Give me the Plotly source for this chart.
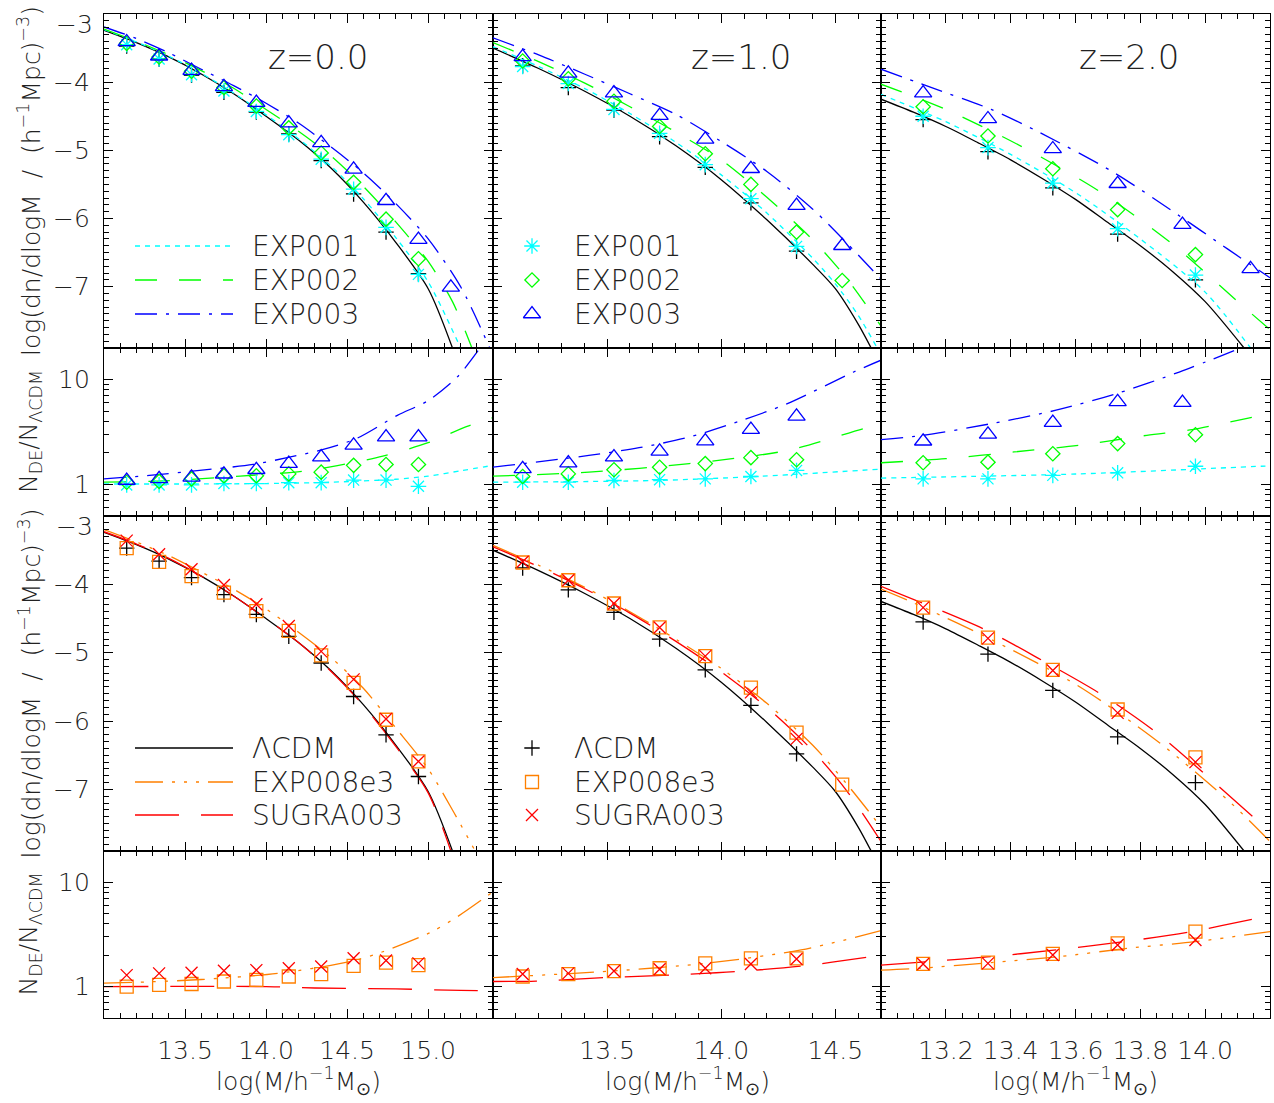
import plotly.graph_objects as go
import math

# ======================= DATA =======================
# simulation mass bins, log10(M / h^-1 Msun)
Z0_BIN_X = [13.14, 13.34, 13.54, 13.74, 13.94, 14.14, 14.34, 14.54, 14.74, 14.94, 15.14]
Z1_BIN_X = [13.13, 13.33, 13.53, 13.73, 13.93, 14.13, 14.33, 14.53]
Z2_BIN_X = [13.13, 13.33, 13.53, 13.73, 13.97]
Z2_BIN_X_EXP003 = [13.13, 13.33, 13.53, 13.73, 13.93, 14.14]

# --- z = 0 : simulated log(dn/dlogM)
Z0_MF_LCDM = [-3.47, -3.66, -3.90, -4.15, -4.44, -4.76, -5.15, -5.64, -6.20, -6.81]
Z0_MF_EXP001 = [-3.45, -3.66, -3.89, -4.13, -4.43, -4.77, -5.13, -5.57, -6.13, -6.82]
Z0_MF_EXP002 = [-3.43, -3.63, -3.84, -4.08, -4.35, -4.67, -5.04, -5.47, -6.01, -6.59]
Z0_MF_EXP003 = [-3.41, -3.62, -3.83, -4.07, -4.30, -4.60, -4.89, -5.28, -5.74, -6.31, -7.01]
Z0_MF_EXP008 = [-3.47, -3.67, -3.88, -4.12, -4.39, -4.68, -5.04, -5.44, -5.98, -6.59]
Z0_MF_SUGRA = [-3.36, -3.56, -3.78, -4.01, -4.29, -4.61, -4.98, -5.39, -5.97, -6.59]
# --- z = 0 : simulated N_DE / N_LCDM
Z0_R_EXP001 = [0.99, 0.99, 0.99, 1.02, 1.02, 1.04, 1.04, 1.10, 1.10, 0.96]
Z0_R_EXP002 = [1.05, 1.07, 1.13, 1.21, 1.21, 1.26, 1.31, 1.52, 1.55, 1.55]
Z0_R_EXP003 = [1.09, 1.13, 1.17, 1.25, 1.38, 1.58, 1.82, 2.36, 2.83, 2.83]
Z0_R_EXP008 = [1.00, 1.04, 1.06, 1.12, 1.16, 1.25, 1.32, 1.58, 1.70, 1.61]
Z0_R_SUGRA = [1.29, 1.34, 1.36, 1.42, 1.44, 1.50, 1.56, 1.87, 1.78, 1.67]
# --- z = 0 : theory curves
Z0_C_LCDM_X = [13.0, 13.2, 13.4, 13.6, 13.8, 14.0, 14.2, 14.4, 14.6, 14.8, 15.0, 15.15]
Z0_C_LCDM_Y = [-3.24, -3.42, -3.63, -3.88, -4.17, -4.50, -4.85, -5.26, -5.76, -6.35, -7.03, -7.90]
Z0_C_EXP001_X = [13.0, 13.2, 13.4, 13.6, 13.8, 14.0, 14.2, 14.4, 14.6, 14.8, 15.0, 15.2]
Z0_C_EXP001_Y = [-3.23, -3.41, -3.62, -3.87, -4.16, -4.48, -4.83, -5.23, -5.71, -6.28, -6.93, -7.90]
Z0_C_EXP002_X = [13.0, 13.2, 13.4, 13.6, 13.8, 14.0, 14.2, 14.4, 14.6, 14.8, 15.0, 15.15, 15.27]
Z0_C_EXP002_Y = [-3.22, -3.40, -3.60, -3.83, -4.09, -4.40, -4.72, -5.08, -5.53, -6.05, -6.63, -7.22, -7.90]
Z0_C_EXP003_X = [13.0, 13.2, 13.4, 13.6, 13.8, 14.0, 14.2, 14.4, 14.6, 14.8, 15.0, 15.2, 15.38]
Z0_C_EXP003_Y = [-3.19, -3.36, -3.57, -3.81, -4.05, -4.31, -4.60, -4.95, -5.33, -5.78, -6.30, -7.00, -7.90]
Z0_C_EXP008_X = [13.0, 13.2, 13.4, 13.6, 13.8, 14.0, 14.2, 14.4, 14.6, 14.8, 15.0, 15.15, 15.29]
Z0_C_EXP008_Y = [-3.20, -3.38, -3.58, -3.82, -4.07, -4.36, -4.70, -5.07, -5.52, -6.10, -6.70, -7.30, -7.90]
Z0_C_SUGRA_X = [13.0, 13.2, 13.4, 13.6, 13.8, 14.0, 14.2, 14.4, 14.6, 14.8, 15.0, 15.14]
Z0_C_SUGRA_Y = [-3.23, -3.41, -3.62, -3.88, -4.17, -4.50, -4.85, -5.27, -5.77, -6.37, -7.05, -7.90]
# --- z = 0 : theory ratio curves
Z0_RC_EXP001_X = [13.0, 13.5, 14.0, 14.4, 14.8, 15.0, 15.2, 15.4]
Z0_RC_EXP001_Y = [1.01, 1.01, 1.02, 1.05, 1.12, 1.20, 1.35, 1.52]
Z0_RC_EXP002_X = [13.0, 13.37, 13.84, 14.23, 14.44, 14.72, 15.0, 15.24, 15.4]
Z0_RC_EXP002_Y = [1.05, 1.08, 1.20, 1.34, 1.51, 1.86, 2.50, 3.58, 4.33]
Z0_RC_EXP003_X = [13.0, 13.28, 13.59, 13.92, 14.13, 14.33, 14.56, 14.81, 15.0, 15.18, 15.32]
Z0_RC_EXP003_Y = [1.13, 1.22, 1.36, 1.55, 1.80, 2.11, 2.75, 4.56, 6.3, 10.6, 20.0]
Z0_RC_EXP008_X = [13.0, 13.2, 13.6, 14.07, 14.52, 14.72, 15.01, 15.18, 15.4]
Z0_RC_EXP008_Y = [1.08, 1.10, 1.17, 1.34, 1.74, 2.16, 3.29, 4.68, 8.13]
Z0_RC_SUGRA_X = [13.0, 14.0, 14.3, 14.8, 15.2, 15.4]
Z0_RC_SUGRA_Y = [1.00, 1.00, 0.97, 0.95, 0.92, 0.91]

# --- z = 1 : simulated log(dn/dlogM)
Z1_MF_LCDM = [-3.76, -4.08, -4.41, -4.80, -5.25, -5.77, -6.48]
Z1_MF_EXP001 = [-3.77, -4.02, -4.40, -4.75, -5.21, -5.71, -6.41]
Z1_MF_EXP002 = [-3.69, -3.95, -4.28, -4.65, -5.05, -5.50, -6.20, -6.91]
Z1_MF_EXP003 = [-3.63, -3.87, -4.16, -4.49, -4.84, -5.27, -5.81, -6.40]
Z1_MF_EXP008 = [-3.68, -3.94, -4.28, -4.63, -5.05, -5.51, -6.17, -6.93]
Z1_MF_SUGRA = [-3.67, -3.94, -4.28, -4.63, -5.05, -5.58, -6.26]
# --- z = 1 : simulated ratios
Z1_R_EXP001 = [1.05, 1.05, 1.09, 1.11, 1.13, 1.19, 1.36]
Z1_R_EXP002 = [1.19, 1.26, 1.38, 1.46, 1.58, 1.80, 1.72]
Z1_R_EXP003 = [1.41, 1.60, 1.82, 2.07, 2.59, 3.33, 4.46]
Z1_R_EXP008 = [1.25, 1.32, 1.41, 1.50, 1.67, 1.87, 1.87]
Z1_R_SUGRA = [1.32, 1.34, 1.41, 1.47, 1.50, 1.65, 1.84]
# --- z = 1 : theory curves
Z1_C_LCDM_X = [13.0, 13.2, 13.4, 13.6, 13.8, 14.0, 14.2, 14.4, 14.5, 14.6, 14.66]
Z1_C_LCDM_Y = [-3.50, -3.80, -4.13, -4.50, -4.93, -5.43, -6.02, -6.67, -7.03, -7.55, -7.92]
Z1_C_EXP001_X = [13.0, 13.2, 13.4, 13.6, 13.8, 14.0, 14.2, 14.4, 14.5, 14.6, 14.68]
Z1_C_EXP001_Y = [-3.48, -3.77, -4.09, -4.46, -4.88, -5.36, -5.92, -6.58, -6.96, -7.42, -7.88]
Z1_C_EXP002_X = [13.0, 13.2, 13.4, 13.6, 13.8, 14.0, 14.2, 14.4, 14.55, 14.7]
Z1_C_EXP002_Y = [-3.42, -3.70, -4.01, -4.36, -4.73, -5.14, -5.69, -6.31, -6.88, -7.58]
Z1_C_EXP003_X = [13.0, 13.2, 13.4, 13.6, 13.8, 14.0, 14.2, 14.4, 14.55, 14.7]
Z1_C_EXP003_Y = [-3.35, -3.60, -3.88, -4.17, -4.47, -4.87, -5.31, -5.86, -6.36, -6.89]
Z1_C_EXP008_X = [13.0, 13.2, 13.4, 13.6, 13.8, 14.0, 14.2, 14.4, 14.55, 14.7]
Z1_C_EXP008_Y = [-3.43, -3.72, -4.04, -4.40, -4.80, -5.23, -5.74, -6.35, -6.92, -7.55]
Z1_C_SUGRA_X = [13.0, 13.2, 13.4, 13.6, 13.8, 14.0, 14.2, 14.4, 14.55, 14.7]
Z1_C_SUGRA_Y = [-3.45, -3.74, -4.06, -4.42, -4.83, -5.28, -5.80, -6.43, -7.02, -7.76]
# --- z = 1 : theory ratio curves
Z1_RC_EXP001_X = [13.0, 13.71, 14.15, 14.7]
Z1_RC_EXP001_Y = [1.05, 1.09, 1.19, 1.40]
Z1_RC_EXP002_X = [13.0, 13.42, 13.86, 14.29, 14.64, 14.7]
Z1_RC_EXP002_Y = [1.20, 1.31, 1.58, 2.11, 3.48, 3.66]
Z1_RC_EXP003_X = [13.0, 13.42, 13.64, 13.86, 14.09, 14.29, 14.58, 14.7]
Z1_RC_EXP003_Y = [1.46, 1.89, 2.24, 2.83, 4.08, 5.9, 11.8, 15.3]
Z1_RC_EXP008_X = [13.0, 13.52, 13.93, 14.35, 14.7]
Z1_RC_EXP008_Y = [1.22, 1.41, 1.67, 2.25, 3.44]
Z1_RC_SUGRA_X = [13.0, 13.19, 13.49, 13.78, 14.06, 14.36, 14.64, 14.7]
Z1_RC_SUGRA_Y = [1.12, 1.13, 1.22, 1.29, 1.39, 1.58, 1.91, 1.97]

# --- z = 2 : simulated log(dn/dlogM)
Z2_MF_LCDM = [-4.55, -5.02, -5.55, -6.23, -6.90]
Z2_MF_EXP001 = [-4.50, -4.96, -5.48, -6.15, -6.83]
Z2_MF_EXP002 = [-4.36, -4.79, -5.27, -5.87, -6.53]
Z2_MF_EXP003 = [-4.16, -4.54, -4.98, -5.49, -6.09, -6.74]
Z2_MF_EXP008 = [-4.34, -4.78, -5.25, -5.83, -6.53]
Z2_MF_SUGRA = [-4.34, -4.79, -5.26, -5.88, -6.60]
# --- z = 2 : simulated ratios
Z2_R_EXP001 = [1.13, 1.13, 1.22, 1.29, 1.49]
Z2_R_EXP002 = [1.61, 1.63, 1.96, 2.45, 2.98]
Z2_R_EXP003 = [2.58, 3.00, 3.88, 6.12, 6.03]
Z2_R_EXP008 = [1.65, 1.70, 2.06, 2.60, 3.37]
Z2_R_SUGRA = [1.65, 1.67, 2.01, 2.51, 2.80]
# --- z = 2 : theory curves
Z2_C_LCDM_X = [13.0, 13.1, 13.2, 13.3, 13.4, 13.5, 13.6, 13.7, 13.8, 13.9, 14.0, 14.12]
Z2_C_LCDM_Y = [-4.25, -4.44, -4.65, -4.89, -5.14, -5.42, -5.72, -6.06, -6.40, -6.78, -7.22, -7.90]
Z2_C_EXP001_X = [13.0, 13.2, 13.4, 13.6, 13.8, 14.0, 14.14]
Z2_C_EXP001_Y = [-4.18, -4.58, -5.06, -5.62, -6.30, -7.08, -7.90]
Z2_C_EXP002_X = [13.0, 13.2, 13.44, 13.68, 13.90, 14.11, 14.2]
Z2_C_EXP002_Y = [-4.03, -4.40, -4.96, -5.62, -6.38, -7.26, -7.63]
Z2_C_EXP003_X = [13.0, 13.15, 13.34, 13.49, 13.72, 13.92, 14.07, 14.2]
Z2_C_EXP003_Y = [-3.81, -4.07, -4.40, -4.74, -5.33, -5.96, -6.45, -6.87]
Z2_C_EXP008_X = [13.0, 13.10, 13.35, 13.61, 13.86, 14.08, 14.2]
Z2_C_EXP008_Y = [-4.07, -4.27, -4.83, -5.49, -6.32, -7.20, -7.76]
Z2_C_SUGRA_X = [13.0, 13.32, 13.5, 13.68, 13.85, 14.16, 14.2]
Z2_C_SUGRA_Y = [-4.03, -4.66, -5.12, -5.61, -6.17, -7.45, -7.60]
# --- z = 2 : theory ratio curves
Z2_RC_EXP001_X = [13.0, 13.61, 14.17, 14.2]
Z2_RC_EXP001_Y = [1.15, 1.26, 1.49, 1.50]
Z2_RC_EXP002_X = [13.0, 13.2, 13.41, 13.61, 13.82, 13.96, 14.16, 14.2]
Z2_RC_EXP002_Y = [1.61, 1.76, 2.04, 2.36, 2.94, 3.33, 4.46, 4.60]
Z2_RC_EXP003_X = [13.0, 13.13, 13.34, 13.54, 13.73, 13.92, 14.11]
Z2_RC_EXP003_Y = [2.67, 2.94, 3.80, 5.10, 7.40, 11.8, 20.0]
Z2_RC_EXP008_X = [13.0, 13.12, 13.34, 13.55, 13.76, 13.97, 14.2]
Z2_RC_EXP008_Y = [1.44, 1.50, 1.70, 1.94, 2.33, 2.70, 3.37]
Z2_RC_SUGRA_X = [13.0, 13.34, 13.54, 13.75, 13.96, 14.16, 14.2]
Z2_RC_SUGRA_Y = [1.61, 1.94, 2.25, 2.70, 3.37, 4.52, 4.70]

# axis settings / labels
X_RANGES = [[13.0, 15.4], [13.0, 14.7], [13.0, 14.2]]
X_TICKS = [[13.5, 14.0, 14.5, 15.0], [13.5, 14.0, 14.5],
           [13.2, 13.4, 13.6, 13.8, 14.0]]
X_MINOR = [0.1, 0.1, 0.05]
Z_LABELS = ["z=0.0", "z=1.0", "z=2.0"]
MF_RANGE = [-7.9, -3.0]
MF_TICKS = [-7, -6, -5, -4]
RATIO_RANGE = [0.5, 20.0]
RATIO_TICKS = [1, 10]
RATIO_MINOR = [0.5, 0.6, 0.7, 0.8, 0.9, 2, 3, 4, 5, 6, 7, 8, 9, 20]
NAMES = {"LCDM": "ΛCDM", "EXP001": "EXP001", "EXP002": "EXP002", "EXP003": "EXP003",
         "EXP008": "EXP008e3", "SUGRA": "SUGRA003"}

# ======================= STYLE / LAYOUT =======================
W, H = 1274, 1103
COL_EDGES = [104, 493, 881, 1270]       # page pixels
ROW_EDGES = [14, 348, 516, 851, 1018]   # page pixels
FONT = "DejaVu Sans"
FW = 200
TXT = "#222222"
COLOR = {"LCDM": "#000000", "EXP001": "#00FFFF", "EXP002": "#00FF00", "EXP003": "#0000FF",
         "EXP008": "#FF8000", "SUGRA": "#FF0000"}
DASH = {"LCDM": "solid", "EXP001": "5px,5px", "EXP002": "22px,22px",
        "EXP003": "22px,9px,3px,9px", "EXP008": "28px,9px,3px,9px,3px,9px,3px,9px",
        "SUGRA": "44px,22px"}
SYMBOL = {"LCDM": "cross-thin-open", "EXP001": "asterisk-open", "EXP002": "diamond-open",
          "EXP003": "triangle-up-open", "EXP008": "square-open", "SUGRA": "x-thin-open"}
MSIZE = {"LCDM": 11, "EXP001": 13, "EXP002": 11, "EXP003": 15, "EXP008": 13, "SUGRA": 12}

G = globals()
ZKEYS = ["Z0", "Z1", "Z2"]


def bins_for(z, key, n):
    if z == "Z2" and key == "EXP003":
        return Z2_BIN_X_EXP003[:n]
    return G[z + "_BIN_X"][:n]


def fx(p):
    return p / W


def fy(p):
    return 1 - p / H


def ax_suffix(r, c):
    i = r * 3 + c + 1
    return "" if i == 1 else str(i)


def font(size):
    return dict(family=FONT, size=size, color=TXT, weight=FW)


fig = go.Figure()


def add_curve(r, c, x, y, key):
    s = ax_suffix(r, c)
    fig.add_trace(go.Scatter(x=x, y=y, mode="lines", xaxis="x" + s, yaxis="y" + s,
                             line=dict(color=COLOR[key], dash=DASH[key], width=1.3,
                                       shape="spline", smoothing=0.8),
                             showlegend=False, hoverinfo="skip"))


def add_points(r, c, x, y, key):
    s = ax_suffix(r, c)
    fig.add_trace(go.Scatter(x=x, y=y, mode="markers", xaxis="x" + s, yaxis="y" + s,
                             marker=dict(symbol=SYMBOL[key], size=MSIZE[key], color=COLOR[key],
                                         line=dict(color=COLOR[key], width=1.3)),
                             showlegend=False, hoverinfo="skip"))


TOP = ["LCDM", "EXP001", "EXP002", "EXP003"]
BOT = ["LCDM", "EXP008", "SUGRA"]
for c, z in enumerate(ZKEYS):
    for row, keys in ((0, TOP), (2, BOT)):
        for k in keys:
            add_curve(row, c, G[f"{z}_C_{k}_X"], G[f"{z}_C_{k}_Y"], k)
        for k in keys:
            yv = G[f"{z}_MF_{k}"]
            add_points(row, c, bins_for(z, k, len(yv)), yv, k)
    for row, keys in ((1, TOP[1:]), (3, BOT[1:])):
        for k in keys:
            add_curve(row, c, G[f"{z}_RC_{k}_X"], G[f"{z}_RC_{k}_Y"], k)
        for k in keys:
            yv = G[f"{z}_R_{k}"]
            add_points(row, c, bins_for(z, k, len(yv)), yv, k)

layout = dict(width=W, height=H, margin=dict(l=0, r=0, t=0, b=0), autosize=False,
              paper_bgcolor="white", plot_bgcolor="rgba(0,0,0,0)",
              font=font(25), showlegend=False)

tickfont = font(25)
for r in range(4):
    for c in range(3):
        s = ax_suffix(r, c)
        xd = [fx(COL_EDGES[c]), fx(COL_EDGES[c + 1])]
        yd = [fy(ROW_EDGES[r + 1]), fy(ROW_EDGES[r])]
        xt = X_TICKS[c]
        layout["xaxis" + s] = dict(
            domain=xd, range=X_RANGES[c], anchor="y" + s, showgrid=False, zeroline=False,
            showline=True, linecolor="black", linewidth=1.2, mirror="allticks",
            ticks="inside", ticklen=9, tickwidth=1, tickcolor="black",
            tickmode="array", tickvals=xt, ticktext=[f"{v:.1f}" for v in xt],
            showticklabels=(r == 3), tickfont=tickfont, ticklabelstandoff=10,
            minor=dict(ticks="inside", ticklen=5, tickwidth=1, tickcolor="black",
                       tick0=13.0, dtick=X_MINOR[c], showgrid=False),
        )
        if r in (0, 2):
            ydict = dict(range=MF_RANGE, tickmode="array", tickvals=MF_TICKS,
                         ticktext=["\u2212" + str(-v) for v in MF_TICKS],
                         minor=dict(ticks="inside", ticklen=5, tickwidth=1, tickcolor="black",
                                    tick0=-3.0, dtick=0.1, showgrid=False))
        else:
            ydict = dict(type="log", range=[math.log10(RATIO_RANGE[0]), math.log10(RATIO_RANGE[1])],
                         tickmode="array", tickvals=RATIO_TICKS,
                         ticktext=[str(v) for v in RATIO_TICKS],
                         minor=dict(ticks="inside", ticklen=5, tickwidth=1, tickcolor="black",
                                    tickmode="array", tickvals=RATIO_MINOR, showgrid=False))
        ydict.update(domain=yd, anchor="x" + s, showgrid=False, zeroline=False,
                     showline=True, linecolor="black", linewidth=1.2, mirror="allticks",
                     ticks="inside", ticklen=9, tickwidth=1, tickcolor="black",
                     showticklabels=(c == 0), tickfont=tickfont, ticklabelstandoff=8)
        layout["yaxis" + s] = ydict

# overlay axis in page-pixel coordinates, used only for the legend keys
layout["xaxis13"] = dict(domain=[0, 1], range=[0, W], visible=False, fixedrange=True, anchor="y13")
layout["yaxis13"] = dict(domain=[0, 1], range=[H, 0], visible=False, fixedrange=True, anchor="x13")

fig.update_layout(**layout)

LEG_ROWS_TOP = [246, 280, 314]
LEG_ROWS_BOT = [748, 782, 815]
LINE_KEY_X = [135, 233]
MARK_KEY_X = 532
TEXT_X_LINES = 250
TEXT_X_MARKS = 572

ann = []
for keys, rows in ((TOP[1:], LEG_ROWS_TOP), (BOT, LEG_ROWS_BOT)):
    for k, yy in zip(keys, rows):
        fig.add_trace(go.Scatter(x=LINE_KEY_X, y=[yy, yy], mode="lines", xaxis="x13", yaxis="y13",
                                 line=dict(color=COLOR[k], dash=DASH[k], width=1.3),
                                 showlegend=False, hoverinfo="skip"))
        fig.add_trace(go.Scatter(x=[MARK_KEY_X], y=[yy], mode="markers", xaxis="x13", yaxis="y13",
                                 marker=dict(symbol=SYMBOL[k], size=MSIZE[k], color=COLOR[k],
                                             line=dict(color=COLOR[k], width=1.3)),
                                 showlegend=False, hoverinfo="skip"))
        for tx in (TEXT_X_LINES, TEXT_X_MARKS):
            ann.append(dict(x=fx(tx), y=fy(yy), xref="paper", yref="paper", text=NAMES[k],
                            showarrow=False, xanchor="left", yanchor="middle", font=font(28)))

# redshift labels
for c, lab in enumerate(Z_LABELS):
    xc = [318, 741, 1129][c]
    ann.append(dict(x=fx(xc), y=fy(57), xref="paper", yref="paper", text=lab, showarrow=False,
                    xanchor="center", yanchor="middle", font=font(34)))

# "-3" labels (placed just below the frame edge as in the reference)
for yy in (24, 526):
    ann.append(dict(x=fx(95), y=fy(yy), xref="paper", yref="paper", text="\u22123", showarrow=False,
                    xanchor="right", yanchor="middle", font=font(25)))

# axis titles
SP = "\u00a0"
mf_title = f"log(dn/dlogM{SP}{SP}/{SP}{SP}(h<sup>\u22121</sup>Mpc)<sup>\u22123</sup>)"
ratio_title = "N<sub>DE</sub>/N<sub>\u039bCDM</sub>"
for r, t in ((0, mf_title), (1, ratio_title), (2, mf_title), (3, ratio_title)):
    ann.append(dict(x=fx(30), y=fy((ROW_EDGES[r] + ROW_EDGES[r + 1]) / 2), xref="paper", yref="paper",
                    text=t, showarrow=False, textangle=-90, xanchor="center", yanchor="middle",
                    font=font(25)))
for c in range(3):
    ann.append(dict(x=fx((COL_EDGES[c] + COL_EDGES[c + 1]) / 2), y=fy(1081), xref="paper", yref="paper",
                    text="log(M/h<sup>\u22121</sup>M<sub>\u2299</sub>)", showarrow=False,
                    xanchor="center", yanchor="middle", font=font(25)))

fig.update_layout(annotations=ann)
# remove the browser's default 8px page margin so the figure sits at the page origin
fig.write_html("out.html", config={"displayModeBar": False},
               post_script="document.body.style.margin='0px';")
